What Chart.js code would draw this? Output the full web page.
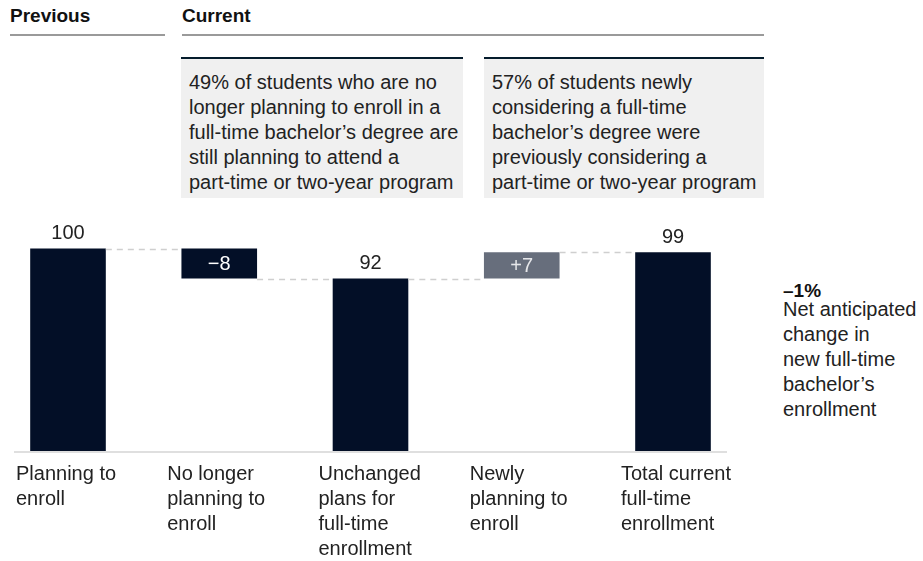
<!DOCTYPE html>
<html>
<head>
<meta charset="utf-8">
<script src="https://cdn.jsdelivr.net/npm/chart.js"></script>
<style>
body{margin:0;width:923px;height:561px;overflow:hidden;background:#fff;position:relative;
  font-family:"Liberation Sans",Arial,sans-serif;color:#222}
.head{position:absolute;top:4px;font-weight:bold;font-size:19px;line-height:24px;color:#111}
.rule{position:absolute;top:34px;height:2px;background:#9a9a9a}
.box{position:absolute;top:57px;height:141px;box-sizing:border-box;border-top:2px solid #051c2c;
  background:#f0f0f0;padding:11px 0 0 8px;font-size:20px;line-height:25px}
.note{position:absolute;left:783px;font-size:20px;line-height:25px}
#wrap{position:absolute;left:0;top:0;width:923px;height:600px}
</style>
</head>
<body>
<div class="head" style="left:10px">Previous</div>
<div class="rule" style="left:10px;width:155px"></div>
<div class="head" style="left:182px">Current</div>
<div class="rule" style="left:182px;width:582px"></div>

<div class="box" style="left:181px;width:282px">49% of students who are no<br>longer planning to enroll in a<br>full-time bachelor’s degree are<br>still planning to attend a<br>part-time or two-year program</div>
<div class="box" style="left:484px;width:280px">57% of students newly<br>considering a full-time<br>bachelor’s degree were<br>previously considering a<br>part-time or two-year program</div>

<div class="note" style="top:280px;font-weight:bold;font-size:19px;line-height:22px;color:#111">–1%</div>
<div class="note" style="top:297px">Net anticipated<br>change in<br>new full-time<br>bachelor’s<br>enrollment</div>

<div id="wrap"><canvas id="grafico"></canvas></div>

<script>
// ---------------- DADOS ----------------
const categorias = [
  ["Planning to", "enroll"],
  ["No longer", "planning to", "enroll"],
  ["Unchanged", "plans for", "full-time", "enrollment"],
  ["Newly", "planning to", "enroll"],
  ["Total current", "full-time", "enrollment"]
]
const valores = [100, -8, 92, 7, 99]
const tipos = ["total", "change", "total", "change", "total"]
const rotulos = ["100", "−8", "92", "+7", "99"]

const yMin = 46
const yMax = 110

// ---------------- BARRAS FLUTUANTES ----------------
let nivel = 0
const barras = []
const niveis = []
valores.forEach((v, i) => {
  if (tipos[i] == "total") {
    barras.push([yMin, v])
    nivel = v
  } else {
    barras.push([nivel, nivel + v])
    nivel = nivel + v
  }
  niveis.push(nivel)
})

const navy = "#030f27"
const cinza = "#676e7c"

Chart.defaults.font.family = '"Liberation Sans", Arial, sans-serif'

// linhas tracejadas, linha base e rotulos
const extras = {
  id: "extras",
  beforeDatasetsDraw(chart) {
    const ctx = chart.ctx
    const x = chart.scales.x
    const bottom = chart.chartArea.bottom
    ctx.save()
    ctx.strokeStyle = "#d4d4d4"
    ctx.lineWidth = 1.5
    ctx.beginPath()
    ctx.moveTo(x.getPixelForValue(0) - 54, bottom + 1)
    ctx.lineTo(x.getPixelForValue(valores.length - 1) + 54, bottom + 1)
    ctx.stroke()
    ctx.restore()
  },
  afterDatasetsDraw(chart) {
    const ctx = chart.ctx
    const y = chart.scales.y
    const bars = chart.getDatasetMeta(0).data
    ctx.save()
    ctx.setLineDash([6, 5])
    ctx.strokeStyle = "#cfcfcf"
    ctx.lineWidth = 1.5
    for (let i = 0; i < bars.length - 1; i++) {
      const py = Math.round(y.getPixelForValue(niveis[i])) + 0.5
      ctx.beginPath()
      ctx.moveTo(bars[i].x + bars[i].width / 2, py)
      ctx.lineTo(bars[i + 1].x - bars[i + 1].width / 2, py)
      ctx.stroke()
    }
    ctx.setLineDash([])
    ctx.font = '20px "Liberation Sans", Arial, sans-serif'
    ctx.textAlign = "center"
    bars.forEach((b, i) => {
      if (tipos[i] == "total") {
        ctx.fillStyle = "#222"
        ctx.textBaseline = "bottom"
        ctx.fillText(rotulos[i], b.x, b.y - 5)
      } else {
        ctx.fillStyle = valores[i] > 0 ? "#e6e7ea" : "#ffffff"
        ctx.textBaseline = "middle"
        ctx.fillText(rotulos[i], b.x, (b.y + b.base) / 2 + 1)
      }
    })
    ctx.restore()
  }
}

new Chart(document.getElementById("grafico"), {
  type: "bar",
  data: {
    labels: categorias,
    datasets: [{
      data: barras,
      backgroundColor: ctx => (tipos[ctx.dataIndex] == "change" && valores[ctx.dataIndex] > 0) ? cinza : navy,
      borderWidth: 0,
      borderSkipped: false,
      categoryPercentage: 1,
      barPercentage: 0.5,
      clip: { left: false, right: false, top: 0, bottom: 0 }
    }]
  },
  options: {
    responsive: true,
    maintainAspectRatio: false,
    animation: false,
    layout: { padding: { left: 68, right: 250, top: 211, bottom: 27 } },
    plugins: { legend: { display: false }, tooltip: { enabled: false } },
    scales: {
      x: {
        offset: false,
        grid: { display: false, drawTicks: false },
        border: { display: false },
        ticks: {
          autoSkip: false,
          maxRotation: 0,
          align: "start",
          labelOffset: -52,
          padding: 11,
          color: "#222",
          font: { size: 20, lineHeight: "25px" }
        }
      },
      y: {
        display: false,
        min: yMin,
        max: yMax
      }
    }
  },
  plugins: [extras]
})
</script>
</body>
</html>
